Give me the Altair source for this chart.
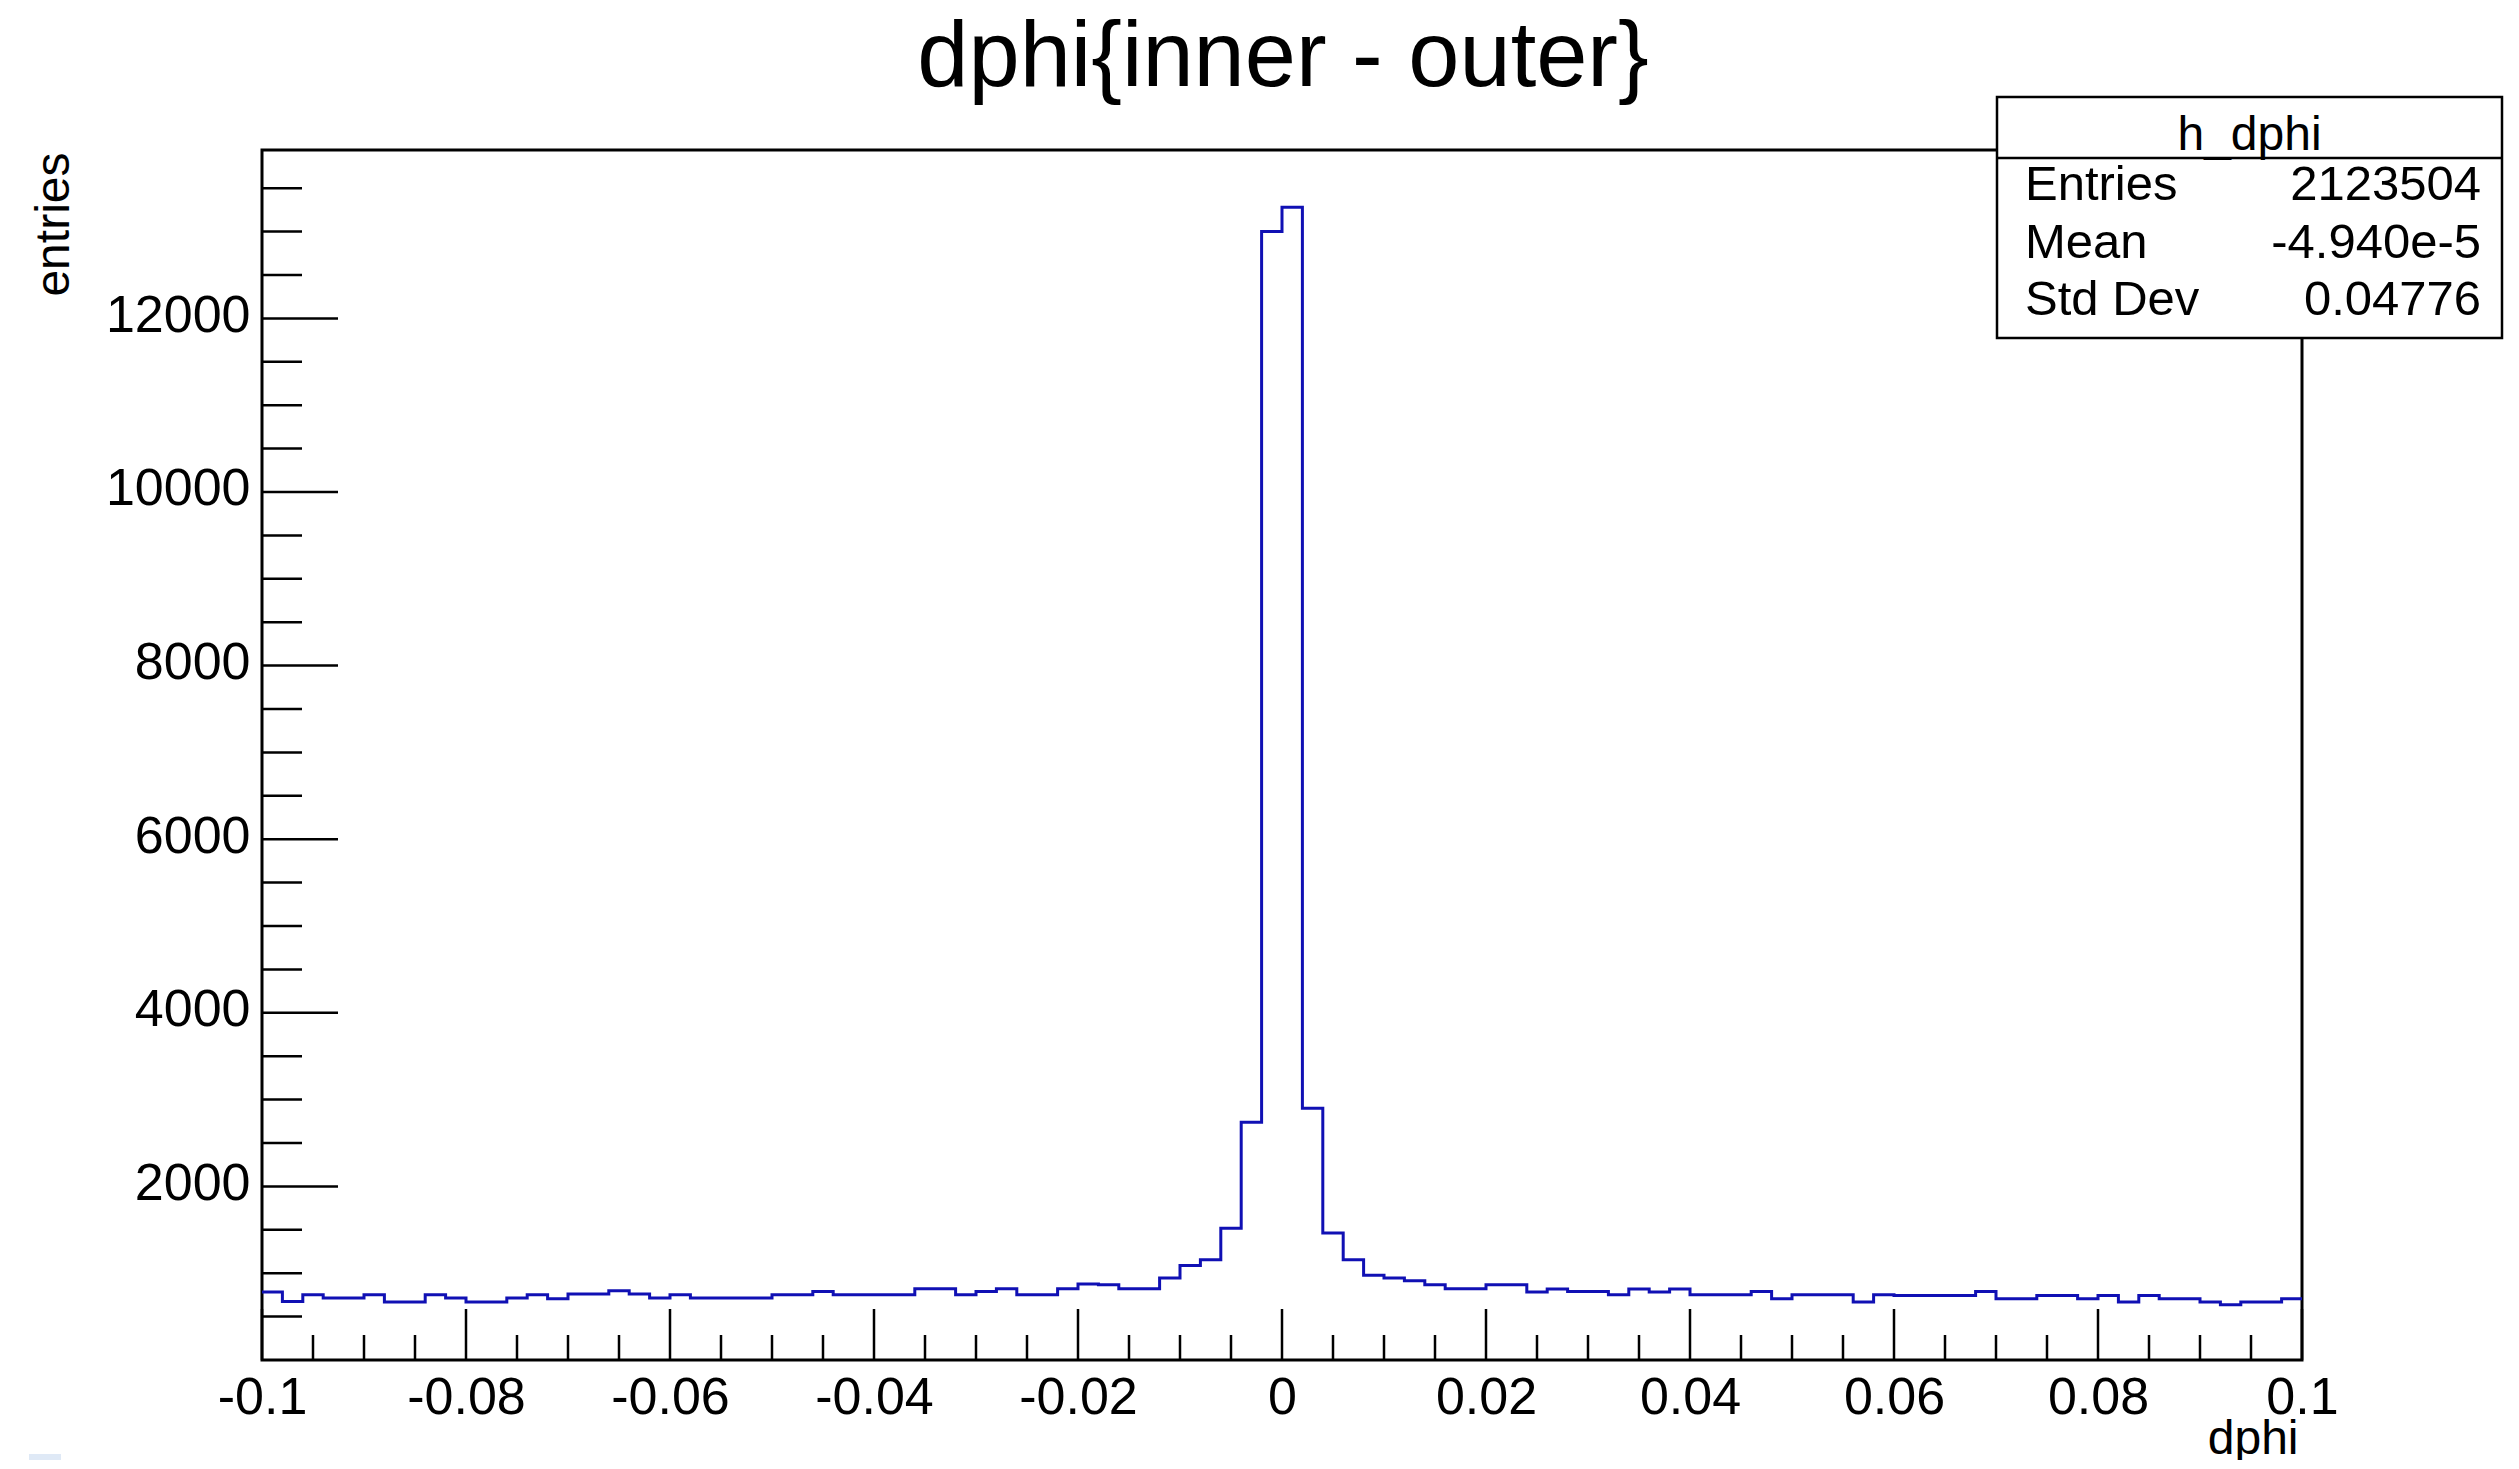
import altair as alt
import numpy as np
import pandas as pd

# ---- data ----
counts = [
    783, 675, 752, 714, 714, 752, 668, 668, 752, 714,
    668, 668, 714, 752, 706, 760, 760, 798, 760, 714,
    752, 714, 714, 714, 714, 752, 752, 790, 752, 752,
    752, 752, 821, 821, 752, 790, 821, 752, 752, 821,
    875, 867, 821, 821, 944, 1090, 1155, 1519, 2740, 13000,
    13280, 2900, 1462, 1155, 975, 944, 913, 867, 821, 821,
    867, 867, 783, 817, 790, 790, 752, 817, 783, 817,
    752, 752, 752, 790, 706, 752, 752, 752, 668, 752,
    744, 744, 744, 744, 790, 706, 706, 744, 744, 706,
    744, 668, 744, 706, 706, 668, 637, 668, 668, 706,
]
x_min, x_max, n_bins = -0.1, 0.1, 100
x_major = [-0.1, -0.08, -0.06, -0.04, -0.02, 0, 0.02, 0.04, 0.06, 0.08, 0.1]
x_minor = [-0.095, -0.09, -0.085, -0.075, -0.07, -0.065, -0.055, -0.05, -0.045,
           -0.035, -0.03, -0.025, -0.015, -0.01, -0.005, 0.005, 0.01, 0.015,
           0.025, 0.03, 0.035, 0.045, 0.05, 0.055, 0.065, 0.07, 0.075,
           0.085, 0.09, 0.095]
y_major = [2000, 4000, 6000, 8000, 10000, 12000]
y_minor = [500, 1000, 1500, 2500, 3000, 3500, 4500, 5000, 5500, 6500, 7000, 7500,
           8500, 9000, 9500, 10500, 11000, 11500, 12500, 13000, 13500]
y_top = 13940

title_text = "dphi{inner - outer}"
x_title = "dphi"
y_title = "entries"
stat_name = "h_dphi"
stat_labels = ["Entries", "Mean", "Std Dev"]
stat_values = ["2123504", "-4.940e-5", "0.04776"]

FONT = "Liberation Sans"
W, H = 2040, 1210
LINE = "#1010b4"

edges = np.round(np.linspace(x_min, x_max, n_bins + 1), 4)
hist = pd.DataFrame({"x": list(edges[:-1]) + [edges[-1]],
                     "y": counts + [counts[-1]]})

xscale = alt.Scale(domain=[x_min, x_max], nice=False, zero=False)
yscale = alt.Scale(domain=[0, y_top], nice=False, zero=False)

line = alt.Chart(hist).mark_line(
    interpolate="step-after", color=LINE, strokeWidth=3
).encode(
    x=alt.X("x:Q", scale=xscale,
            axis=alt.Axis(values=x_major, ticks=False, domain=False, grid=False,
                          labelExpr="'' + datum.value", labelFont=FONT,
                          labelFontSize=52, labelColor="black", labelPadding=12,
                          labelBaseline="top", labelFlush=False,
                          title=x_title, titleFont=FONT, titleFontSize=48,
                          titleFontWeight="normal", titleColor="black",
                          titleAlign="right", titleAnchor="end",
                          titleBaseline="alphabetic", titleX=W - 4, titleY=93)),
    y=alt.Y("y:Q", scale=yscale,
            axis=alt.Axis(values=y_major, ticks=False, domain=False, grid=False,
                          labelExpr="'' + datum.value", labelFont=FONT,
                          labelFontSize=52, labelColor="black", labelPadding=12,
                          labelOffset=-3,
                          title=y_title, titleFont=FONT, titleFontSize=48,
                          titleFontWeight="normal", titleColor="black",
                          titleAngle=270, titleAlign="right", titleAnchor="end",
                          titleBaseline="alphabetic", titleX=-194, titleY=2)),
)

xmaj = alt.Chart(pd.DataFrame({"v": x_major})).mark_rule(
    color="black", strokeWidth=2.5).encode(
    x=alt.X("v:Q", scale=xscale), y=alt.value(H), y2=alt.value(H - 51))
xmin_ = alt.Chart(pd.DataFrame({"v": x_minor})).mark_rule(
    color="black", strokeWidth=2.5).encode(
    x=alt.X("v:Q", scale=xscale), y=alt.value(H), y2=alt.value(H - 25))
ymaj = alt.Chart(pd.DataFrame({"v": y_major})).mark_rule(
    color="black", strokeWidth=2.5).encode(
    y=alt.Y("v:Q", scale=yscale), x=alt.value(0), x2=alt.value(76))
ymin_ = alt.Chart(pd.DataFrame({"v": y_minor})).mark_rule(
    color="black", strokeWidth=2.5).encode(
    y=alt.Y("v:Q", scale=yscale), x=alt.value(0), x2=alt.value(40))

one = pd.DataFrame({"t": [title_text]})
title = alt.Chart(one).mark_text(
    font=FONT, fontSize=92, color="black", align="center", baseline="alphabetic"
).encode(text="t:N", x=alt.value(W / 2 + 1), y=alt.value(-64))

# stats box
BX0, BX1, BY0, BY1, SEP = 1735, 2240, -53, 188, 8
box = alt.Chart(one).mark_rect(fill="white", stroke="black", strokeWidth=2.5).encode(
    x=alt.value(BX0), x2=alt.value(BX1), y=alt.value(BY0), y2=alt.value(BY1))
sep = alt.Chart(one).mark_rule(color="black", strokeWidth=2.5).encode(
    x=alt.value(BX0), x2=alt.value(BX1), y=alt.value(SEP))
name = alt.Chart(pd.DataFrame({"t": [stat_name]})).mark_text(
    font=FONT, fontSize=48, color="black", align="center", baseline="alphabetic"
).encode(text="t:N", x=alt.value((BX0 + BX1) / 2), y=alt.value(0))

stat_layers = []
row_y = [50, 108, 165]
for lab, val, yy in zip(stat_labels, stat_values, row_y):
    d = pd.DataFrame({"l": [lab], "v": [val]})
    stat_layers.append(alt.Chart(d).mark_text(
        font=FONT, fontSize=49, color="black", align="left", baseline="alphabetic"
    ).encode(text="l:N", x=alt.value(1763), y=alt.value(yy)))
    stat_layers.append(alt.Chart(d).mark_text(
        font=FONT, fontSize=49, color="black", align="right", baseline="alphabetic"
    ).encode(text="v:N", x=alt.value(2219), y=alt.value(yy)))

# small pale square seen at the bottom-left corner of the reference screenshot
corner = alt.Chart(one).mark_rect(fill="#dfe9f6").encode(
    x=alt.value(-233), x2=alt.value(-201), y=alt.value(1304), y2=alt.value(1312))

chart = alt.layer(
    line, xmaj, xmin_, ymaj, ymin_, title, box, sep, name, corner, *stat_layers
).properties(
    width=W, height=H,
    padding={"left": 254, "top": 142, "right": 209, "bottom": 100},
    autosize=alt.AutoSizeParams(type="none"),
    background="white",
).configure_view(
    stroke="black", strokeWidth=3
)

chart.save("out.html", embed_options={"renderer": "svg", "actions": False})
